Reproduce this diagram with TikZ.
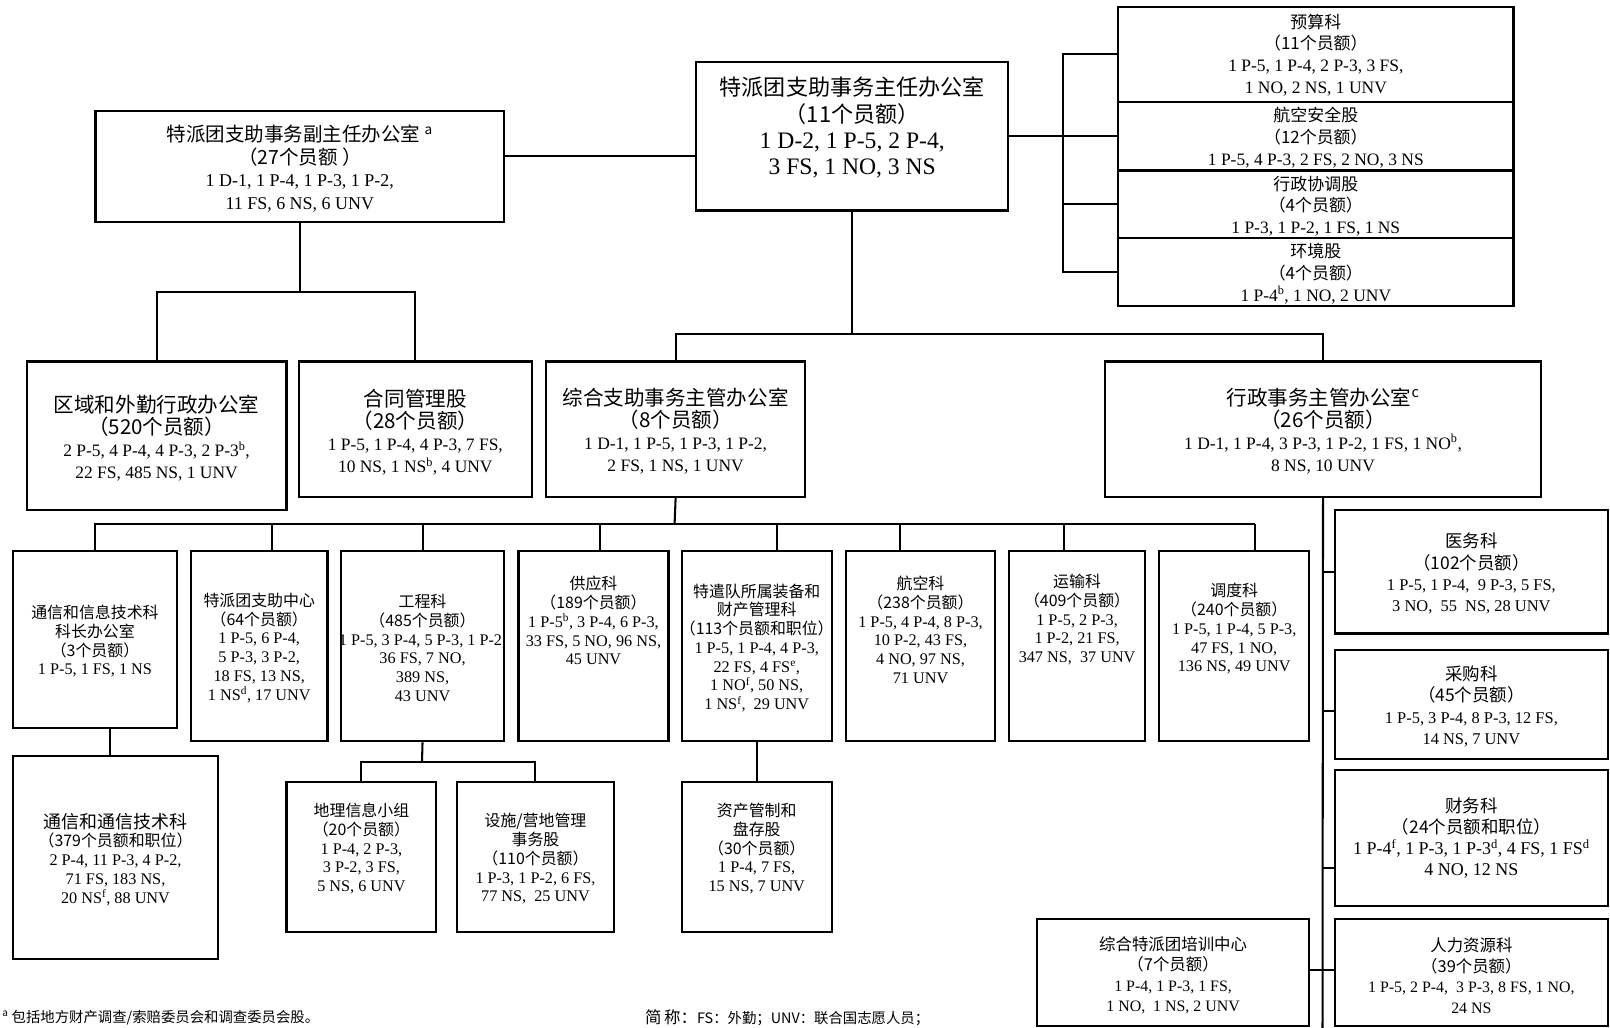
\documentclass[tikz,border=0pt]{standalone}
\usepackage{fontspec}
\setmainfont{Liberation Serif}
\newfontfamily\cjk{Noto Sans CJK SC}
\newcommand\Cz[2]{{\cjk\fontsize{#1}{#1}\selectfont #2}}
\newcommand\sps[1]{\textsuperscript{#1}}
\tikzset{
  box/.style={draw, line width=2.1pt, inner sep=0pt, rectangle},
  ln/.style={line width=2pt},
  lab/.style={align=center, inner sep=0pt},
  fdir/.style={font=\fontsize{23}{25.7}\selectfont},
  fdep/.style={font=\fontsize{17.5}{22}\selectfont},
  frc/.style={font=\fontsize{17}{21}\selectfont},
  fr2/.style={font=\fontsize{17}{21.5}\selectfont},
  fr3/.style={font=\fontsize{15.8}{18.3}\selectfont},
  frs/.style={font=\fontsize{16}{20.5}\selectfont},
  frf/.style={font=\fontsize{17.5}{20.5}\selectfont},
  frt/.style={font=\fontsize{15.5}{20}\selectfont},
}
\newcommand\bx[8]{%
  \node[box, minimum width={#4pt-#2pt}, minimum height={#5pt-#3pt}] (#1) at ({(#2+#4)/2},{(#3+#5)/2}) {};
  \node[lab, #7] (#1t) at ({(#2+#4)/2},#6) {#8};}
\begin{document}
\begin{tikzpicture}[x=1pt,y=-1pt]
\useasboundingbox (0,0) rectangle (1568,1001);
\clip (0,0) rectangle (1568,1001);
% top level
\bx{dir}{678}{60}{982}{205}{124.5}{fdir}{\Cz{21.5}{特派团支助事务主任办公室}\\ \Cz{21.5}{（11个员额）}\\ 1 D-2, 1 P-5, 2 P-4,\\ 3 FS, 1 NO, 3 NS}
\bx{dep}{93}{108}{491}{216}{164}{fdep}{\Cz{19}{特派团支助事务副主任办公室\ \sps{a}}\\ \Cz{19}{（27个员额 ）}\\ 1 D-1, 1 P-4, 1 P-3, 1 P-2,\\ 11 FS, 6 NS, 6 UNV}
% right column
\bx{bud}{1089}{7}{1474}{99}{53.5}{frc}{\Cz{16.5}{预算科}\\ \Cz{16.5}{（11个员额）}\\ 1 P-5, 1 P-4, 2 P-3, 3 FS,\\ 1 NO, 2 NS, 1 UNV}
\bx{avs}{1089}{99}{1474}{166}{134}{frc}{\Cz{16.5}{航空安全股}\\ \Cz{16.5}{（12个员额）}\\ 1 P-5, 4 P-3, 2 FS, 2 NO, 3 NS}
\bx{adm}{1089}{166}{1474}{232}{200.5}{frc}{\Cz{16.5}{行政协调股}\\ \Cz{16.5}{（4个员额）}\\ 1 P-3, 1 P-2, 1 FS, 1 NS}
\bx{env}{1089}{232}{1474}{298}{266.5}{frc}{\Cz{16.5}{环境股}\\ \Cz{16.5}{（4个员额）}\\ 1 P-4\sps{b}, 1 NO, 2 UNV}
% row 2
\bx{rfo}{26}{352}{279}{497}{427}{fr2}{\Cz{20}{区域和外勤行政办公室}\\ \Cz{20}{（520个员额）}\\ 2 P-5, 4 P-4, 4 P-3, 2 P-3\sps{b},\\ 22 FS, 485 NS, 1 UNV}
\bx{cmu}{291}{352}{518}{484}{421}{fr2}{\Cz{20}{合同管理股}\\ \Cz{20}{（28个员额）}\\ 1 P-5, 1 P-4, 4 P-3, 7 FS,\\ 10 NS, 1 NS\sps{b}, 4 UNV}
\bx{iss}{532}{352}{784}{484}{419.5}{fr2}{\Cz{20}{综合支助事务主管办公室}\\ \Cz{20}{（8个员额）}\\ 1 D-1, 1 P-5, 1 P-3, 1 P-2,\\ 2 FS, 1 NS, 1 UNV}
\bx{ads}{1076}{352}{1501}{484}{419.5}{fr2}{\Cz{20}{行政事务主管办公室\sps{c}}\\ \Cz{20}{（26个员额）}\\ 1 D-1, 1 P-4, 3 P-3, 1 P-2, 1 FS, 1 NO\sps{b},\\ 8 NS, 10 UNV}
% row 3
\bx{cit}{13}{537}{172}{709}{624.5}{fr3}{\Cz{15.5}{通信和信息技术科}\\ \Cz{15.5}{科长办公室}\\ \Cz{15.5}{（3个员额）}\\ 1 P-5, 1 FS, 1 NS}
\bx{msc}{186}{537}{319}{722}{631}{fr3}{\Cz{15.5}{特派团支助中心}\\ \Cz{15.5}{（64个员额）}\\ 1 P-5, 6 P-4,\\ 5 P-3, 3 P-2,\\ 18 FS, 13 NS,\\ 1 NS\sps{d}, 17 UNV}
\bx{eng}{332}{537}{491}{722}{631}{fr3}{\Cz{15.5}{工程科}\\ \Cz{15.5}{（485个员额）}\\ 1 P-5, 3 P-4, 5 P-3, 1 P-2,\\ 36 FS, 7 NO,\\ 389 NS,\\ 43 UNV}
\bx{sup}{505}{537}{651}{722}{604.5}{fr3}{\Cz{15.5}{供应科}\\ \Cz{15.5}{（189个员额）}\\ 1 P-5\sps{b}, 3 P-4, 6 P-3,\\ 33 FS, 5 NO, 96 NS,\\ 45 UNV}
\bx{cog}{664}{537}{810}{722}{631}{fr3}{\Cz{15.5}{特遣队所属装备和}\\ \Cz{15.5}{财产管理科}\\ \Cz{15.5}{（113个员额和职位）}\\ 1 P-5, 1 P-4, 4 P-3,\\ 22 FS, 4 FS\sps{e},\\ 1 NO\sps{f}, 50 NS,\\ 1 NS\sps{f},\ \ 29 UNV}
\bx{avn}{824}{537}{969}{722}{613.5}{fr3}{\Cz{15.5}{航空科}\\ \Cz{15.5}{（238个员额）}\\ 1 P-5, 4 P-4, 8 P-3,\\ 10 P-2, 43 FS,\\ 4 NO, 97 NS,\\ 71 UNV}
\bx{trn}{983}{537}{1115}{722}{603.5}{fr3}{\Cz{15.5}{运输科}\\ \Cz{15.5}{（409个员额）}\\ 1 P-5, 2 P-3,\\ 1 P-2, 21 FS,\\ 347 NS,\ \ 37 UNV}
\bx{mov}{1129}{537}{1275}{722}{612.5}{fr3}{\Cz{15.5}{调度科}\\ \Cz{15.5}{（240个员额）}\\ 1 P-5, 1 P-4, 5 P-3,\\ 47 FS, 1 NO,\\ 136 NS, 49 UNV}
% row 4
\bx{cct}{13}{736}{212}{934}{837}{fr3}{\Cz{17.5}{通信和通信技术科}\\ \Cz{15.5}{（379个员额和职位）}\\ 2 P-4, 11 P-3, 4 P-2,\\ 71 FS, 183 NS,\\ 20 NS\sps{f}, 88 UNV}
\bx{gis}{279}{762}{425}{908}{826.5}{fr3}{\Cz{15.5}{地理信息小组}\\ \Cz{15.5}{（20个员额）}\\ 1 P-4, 2 P-3,\\ 3 P-2, 3 FS,\\ 5 NS, 6 UNV}
\bx{fac}{445}{762}{598}{908}{836.5}{fr3}{\Cz{15.5}{设施/营地管理}\\ \Cz{15.5}{事务股}\\ \Cz{15.5}{（110个员额）}\\ 1 P-3, 1 P-2, 6 FS,\\ 77 NS,\ \ 25 UNV}
\bx{acu}{664}{762}{810}{908}{826.5}{fr3}{\Cz{15.5}{资产管制和}\\ \Cz{15.5}{盘存股}\\ \Cz{15.5}{（30个员额）}\\ 1 P-4, 7 FS,\\ 15 NS, 7 UNV}
% right side
\bx{med}{1300}{497}{1566}{617}{558.5}{frs}{\Cz{17}{医务科}\\ \Cz{17}{（102个员额）}\\ 1 P-5, 1 P-4,\ \ 9 P-3, 5 FS,\\ 3 NO,\ \ 55\ \ NS, 28 UNV}
\bx{pro}{1300}{633}{1566}{739}{688}{frs}{\Cz{17}{采购科}\\ \Cz{17}{（45个员额）}\\ 1 P-5, 3 P-4, 8 P-3, 12 FS,\\ 14 NS, 7 UNV}
\bx{fin}{1300}{750}{1566}{882}{816.5}{frf}{\Cz{17}{财务科}\\ \Cz{17}{（24个员额和职位）}\\ 1 P-4\sps{f}, 1 P-3, 1 P-3\sps{d}, 4 FS, 1 FS\sps{d}\\ 4 NO, 12 NS}
\bx{hr}{1300}{895}{1566}{999}{950}{frt}{\Cz{16}{人力资源科}\\ \Cz{16}{（39个员额）}\\ 1 P-5, 2 P-4,\ \ 3 P-3, 8 FS, 1 NO,\\ 24 NS}
\bx{trc}{1010}{895}{1275}{999}{950}{frt}{\Cz{16}{综合特派团培训中心}\\ \Cz{16}{（7个员额）}\\ 1 P-4, 1 P-3, 1 FS,\\ 1 NO,\ \ 1 NS, 2 UNV}
% connectors: top
\coordinate (tr) at (1035,0);
\draw[ln] (dep.east |- 0,152) -- (dir.west |- 0,152);
\draw[ln] (dir.east) -- (dir.east -| tr);
\draw[ln] (bud.west) -| (tr |- env.west) -- (env.west);
\draw[ln] (avs.west) -- (avs.west -| tr);
\draw[ln] (adm.west) -- (adm.west -| tr);
% deputy tree
\coordinate (db) at (292,284);
\draw[ln] (dep.south) -- (db);
\draw[ln] (rfo.north) |- (db) -| (cmu.north);
% director tree
\coordinate (rb) at (830,325);
\draw[ln] (dir.south) -- (rb);
\draw[ln] (iss.north) |- (rb) -| (ads.north);
% integrated support tree
\coordinate (ib) at (657,510);
\coordinate (ibR) at (1222,510);
\draw[ln] (iss.south) -- (ib);
\draw[ln] (cit.north) |- (ibR);
\draw[ln] ([xshift=12.5pt]msc.north) -- ([xshift=12.5pt]msc.north |- ib);
\draw[ln] (eng.north) -- (eng.north |- ib);
\draw[ln] ([xshift=6pt]sup.north) -- ([xshift=6pt]sup.north |- ib);
\draw[ln] ([xshift=20pt]cog.north) -- ([xshift=20pt]cog.north |- ib);
\draw[ln] ([xshift=-20pt]avn.north) -- ([xshift=-20pt]avn.north |- ib);
\draw[ln] ([xshift=-13pt]trn.north) -- ([xshift=-13pt]trn.north |- ib);
\draw[ln] ([xshift=20pt]mov.north) -- (ibR);
% lower subtrees
\draw[ln] (cit.south -| 107,0) -- (cct.north -| 107,0);
\coordinate (eb) at (411,742);
\draw[ln] (eng.south) -- (eb);
\draw[ln] (gis.north -| 352,0) |- (eb) -| (fac.north -| 521,0);
\draw[ln] (cog.south) -- (acu.north);
% administrative services trunk
\coordinate (at) at (1288,1004);
\draw[ln] (ads.south) -- (at);
\draw[ln] (med.west) -- (med.west -| at);
\draw[ln] ([yshift=-6pt]pro.west) -- ([yshift=-6pt]pro.west -| at);
\draw[ln] ([yshift=-29pt]fin.west) -- ([yshift=-29pt]fin.west -| at);
\draw[ln] ([yshift=2pt]trc.east) -- ([yshift=2pt]hr.west);
% notes
\node[anchor=west, inner sep=0pt, font=\cjk\fontsize{14}{16}\selectfont] (fna) at (2,991) {\sps{a} 包括地方财产调查/索赔委员会和调查委员会股。};
\node[anchor=west, inner sep=0pt, font=\cjk\fontsize{14}{16}\selectfont] (abbr) at (628,991) {{\fontsize{16}{16}\selectfont 简\,称：}FS：外勤；UNV：联合国志愿人员；};
\end{tikzpicture}
\end{document}
